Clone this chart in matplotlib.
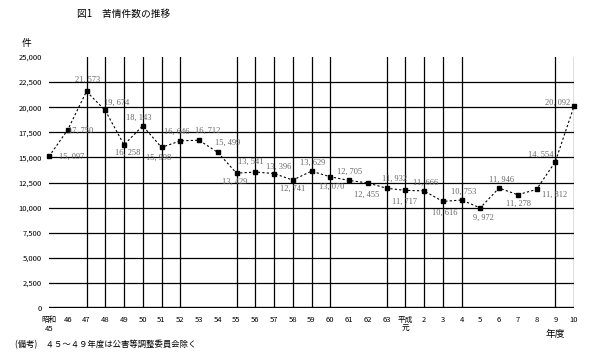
import matplotlib

matplotlib.use("Agg")
import matplotlib.pyplot as plt

plt.rcParams["font.family"] = ["Noto Sans CJK JP", "DejaVu Sans"]

# fiscal years (Showa 45 .. Heisei 10)
years = ["昭和\n45", "46", "47", "48", "49", "50", "51", "52", "53", "54",
         "55", "56", "57", "58", "59", "60", "61", "62", "63", "平成\n元",
         "2", "3", "4", "5", "6", "7", "8", "9", "10"]
counts = [15097, 17750, 21573, 19674, 16258, 18143, 15998, 16646, 16712, 15499,
          13429, 13541, 13396, 12741, 13629, 13070, 12705, 12455, 11932, 11717,
          11666, 10616, 10753, 9972, 11946, 11278, 11812, 14554, 20092]
y_ticks = list(range(0, 25001, 2500))

# label offsets (pixels) so the numbers sit where the original put them
offsets = [(23, 0), (13, -1), (1, 12), (11, 8), (4, -8), (-4, 8), (-3, -10),
           (-3, 9), (9, 9), (10, 10), (-2, -9), (-4, 10), (5, 7), (0, -9),
           (1, 8), (1, -10), (1, 9), (-1, -12), (8, 9), (-1, -11), (2, 8),
           (2, -11), (2, 8), (3, -10), (3, 8), (1, -9), (18, -5), (-14, 7),
           (-16, 3)]
# years that got a vertical rule in the original
vlines = [2, 3, 4, 5, 6, 7, 10, 11, 12, 13, 14, 15, 18, 19, 20, 21, 22, 27, 28]

fig = plt.figure(figsize=(5.96, 3.53), dpi=100)
ax = fig.add_axes([49 / 596, 1 - 308 / 353, 525 / 596, 251 / 353])
x = list(range(len(years)))

for v in y_ticks[1:-1]:
    ax.axhline(v, color="black", lw=0.9, zorder=1)
ax.axhline(0, color="black", lw=2.4, zorder=1)
for i in vlines:
    ax.axvline(i, color="black", lw=0.9, zorder=1)

ax.plot(x, counts, color="black", lw=0.8, linestyle=(0, (2, 2)),
        marker="s", markersize=3.2, clip_on=False, zorder=3)

for i, v in enumerate(counts):
    dx, dy = offsets[i]
    ax.annotate(f"{v:,}".replace(",", ", "), (i, v), xytext=(dx, dy),
                textcoords="offset pixels", ha="center", va="center",
                fontsize=6, color="#666666", family=["Liberation Serif"],
                zorder=4)

ax.set_xlim(0, 28)
ax.set_ylim(0, 25000)
for s in ax.spines.values():
    s.set_visible(False)
ax.set_yticks(y_ticks)
ax.set_yticklabels([f"{v:,}" for v in y_ticks], fontsize=5.5)
ax.set_xticks(x)
ax.set_xticklabels(years, fontsize=5.5, va="top", linespacing=1.1)
ax.tick_params(axis="both", length=0)
ax.tick_params(axis="x", pad=6)
ax.tick_params(axis="y", pad=5)

fig.text(77 / 596, 1 - 14 / 353, "図1　苦情件数の推移", fontsize=7, va="center")
fig.text(22 / 596, 1 - 43 / 353, "件", fontsize=7, va="center")
fig.text(555 / 596, 1 - 334 / 353, "年度", fontsize=7, ha="center", va="center")
fig.text(15 / 596, 1 - 345 / 353, "(備考)　４５～４９年度は公害等調整委員会除く",
         fontsize=6, va="center")

fig.savefig("out.png", dpi=100)
